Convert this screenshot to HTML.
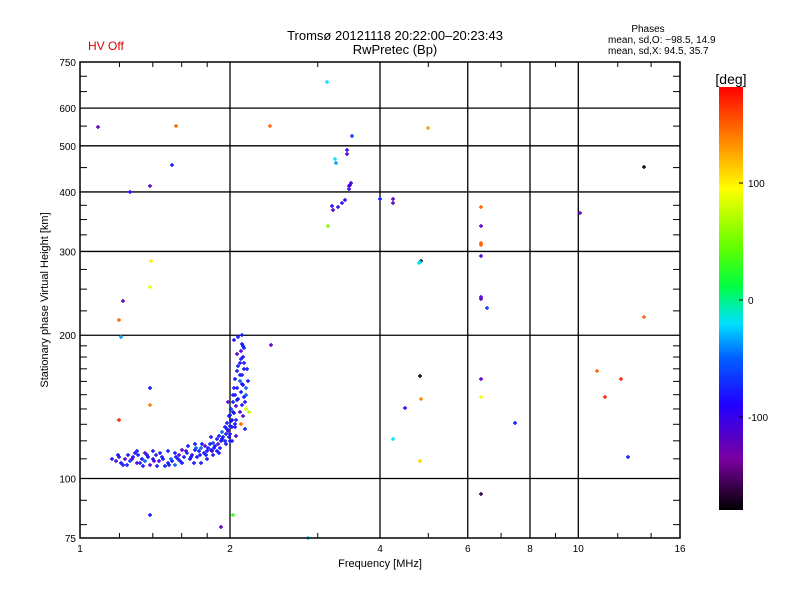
<!DOCTYPE html>
<html><head><meta charset="utf-8"><style>
body{margin:0;background:#fff;width:800px;height:600px;overflow:hidden}
text{font-family:"Liberation Sans",sans-serif;fill:#000}
</style></head><body>
<svg id="chart" width="800" height="600" xmlns="http://www.w3.org/2000/svg">
<defs><linearGradient id="cb" x1="0" y1="1" x2="0" y2="0">
<stop offset="0" stop-color="#000"/>
<stop offset="0.12" stop-color="#7a00a0"/>
<stop offset="0.25" stop-color="#2000ff"/>
<stop offset="0.36" stop-color="#0060ff"/>
<stop offset="0.44" stop-color="#00e0ff"/>
<stop offset="0.53" stop-color="#00ff40"/>
<stop offset="0.62" stop-color="#60ff00"/>
<stop offset="0.76" stop-color="#ffff00"/>
<stop offset="0.88" stop-color="#ff8000"/>
<stop offset="1" stop-color="#ff0000"/>
</linearGradient></defs>
<g id="grid"></g>
<g id="pts"></g>
<g id="axes"></g>
<text x="395" y="40" font-size="13" text-anchor="middle">Tromsø 20121118 20:22:00–20:23:43</text>
<text x="395" y="54" font-size="13" text-anchor="middle">RwPretec (Bp)</text>
<text x="88" y="50" font-size="12" style="fill:#e00000">HV Off</text>
<text x="648" y="32" font-size="10" text-anchor="middle">Phases</text>
<text x="608" y="43" font-size="10">mean, sd,O: −98.5, 14.9</text>
<text x="608" y="54" font-size="10">mean, sd,X:  94.5, 35.7</text>
<text x="380" y="567" font-size="11" text-anchor="middle">Frequency [MHz]</text>
<text transform="translate(48,300) rotate(-90)" font-size="11" text-anchor="middle">Stationary phase Virtual Height [km]</text>
<rect x="719" y="87" width="24" height="423" fill="url(#cb)"/>
<text x="731" y="84" font-size="14" text-anchor="middle">[deg]</text>
<g id="cbt"></g>
</svg>
<script>
const xTicks=[1,2,4,6,8,10,16];
const yTicks=[75,100,200,300,400,500,600,750];
const cbTicks=[100,0,-100];
const freqs=[1.16,1.18,1.2,1.21,1.23,1.25,1.26,1.28,1.3,1.31,1.33,1.35,1.37,1.38,1.4,1.42,1.44,1.46,1.5,1.53,1.55,1.57,1.58,1.6,1.62,1.64,1.66,1.68,1.7,1.72,1.73,1.75,1.77,1.78,1.8,1.82,1.83,1.85,1.86,1.88,1.89,1.9,1.92,1.93,1.94,1.95,1.96,1.97,1.98,1.99,2.0,2.01,2.02,2.03,2.04,2.05,2.06,2.07,2.08,2.09,2.1,2.11,2.12,2.13,2.09,2.12,2.1,2.11,2.08,2.13,2.07,2.15,2.15,2.17,2.05,2.02,2.06,2.1,2.14,2.0,1.98,2.04,2.0,1.96,1.7,1.65,1.6,1.55,1.5,1.45,1.4,1.35,1.3,1.24,1.34,1.48,1.52,1.75,1.8,1.85,1.9,2.12,2.14,2.16,2.11,2.18,
1.087,1.557,2.41,3.13,4.99,3.51,1.53,1.26,1.38,3.25,3.26,3.43,3.44,3.2,3.22,3.3,3.36,3.4,3.47,3.5,3.46,3.49,3.15,4.0,4.24,4.25,6.37,6.37,6.37,6.37,6.37,6.37,6.37,6.37,6.37,6.37,4.84,4.78,4.81,6.56,7.47,4.81,4.83,4.5,4.25,4.81,10.08,13.56,13.56,10.9,11.3,12.2,12.6,1.39,1.38,1.22,1.2,1.21,1.38,1.38,1.2,1.38,2.03,1.92,2.87,2.42,
1.19,1.22,1.27,1.29,1.32,1.36,1.41,1.43,1.47,1.51,1.56,1.59,1.63,1.67,1.69,1.71,1.74,1.76,1.79,1.81,1.84,1.87,1.91,1.95,1.97,1.99,2.01,2.03,2.05,2.07,2.09,2.11,2.13,2.06,2.08,2.1,2.12,2.04,2.02,2.0,2.07,2.09,2.11,2.13,2.15,2.05,2.03,1.93,1.88,1.83];
const heights=[110,109,111,108,110,112,109,111,108,112,110,109,111,107,110,112,109,111,108,109,107,110,112,108,111,113,110,112,115,111,114,116,113,117,114,118,115,119,116,121,118,123,120,125,122,128,124,131,126,135,129,140,133,145,137,150,142,155,147,160,152,165,157,170,175,180,185,192,198,188,168,150,140,160,162,128,123,130,127,136,145,155,120,118,118,117,115,113,114,113,114,113,114,107,106,106,110,108,110,112,113,135,145,170,200,138,
547,549,549,681,545,525,456,400,412,470,460,490,480,374,366,372,380,384,411,418,406,414,339,387,387,380,372,340,313,309,293,241,238,162,148,93,287,283,285,228,131,164,147,141,121,109,362,452,218,168,148,162,111,287,253,236,215,198,155,143,133,84,84,79,75,191,
112,107,110,113,108,112,109,106,110,107,111,109,114,111,108,116,112,118,112,116,114,117,116,120,127,122,132,138,128,146,138,158,148,133,172,178,190,195,120,124,183,165,143,175,155,130,150,121,114,122];
const phases=[-100,-130,-100,-100,-130,-100,-90,-100,-130,-100,-100,-80,-100,-130,-100,-100,-120,-100,-100,-100,-80,-100,-130,-100,-100,-90,-100,-120,-100,-100,-100,-80,-100,-130,-100,-100,-100,-90,-100,-100,-130,-100,-100,-80,-100,-100,-100,-100,-130,-100,-100,-90,-100,-100,-100,-100,-130,-100,-100,-80,-100,-100,-100,-100,-100,-100,-130,-100,-100,-100,-100,-80,80,-100,-100,-100,-130,150,-100,-100,-130,-100,-100,-100,-100,-100,-130,-100,-100,-100,-100,-130,-100,-100,-100,-100,-80,-100,-100,-100,-100,-130,-100,-100,-100,70,
-140,150,150,-40,130,-90,-100,-100,-140,-40,-60,-110,-130,-110,-130,-120,-110,-120,-110,-130,-120,-130,50,-100,-140,-140,150,-140,150,150,-130,-130,-140,-140,90,-170,-175,-40,-40,-90,-100,-175,140,-100,-40,110,-140,-175,150,150,170,170,-100,100,90,-140,150,-60,-100,140,170,-100,20,-140,-40,-140,
-100,-100,-130,-100,-100,-100,-130,-100,-100,-100,-100,-100,-130,-100,-100,-80,-100,-100,-100,-100,-130,-100,-100,-100,-100,-100,-100,-100,-100,-100,-130,-100,-100,-100,-100,-100,-100,-100,-100,-100,-130,-100,-100,-100,-80,-100,-100,-100,-100,-100];
const X0=80,X1=680,Y0=538,Y1=62;
const xs=f=>X0+(X1-X0)*Math.log2(f)/4;
const ys=h=>Y0-(Y0-Y1)*Math.log10(h/75);
const ns="http://www.w3.org/2000/svg";
function mk(t,a,p){const e=document.createElementNS(ns,t);for(const k in a)e.setAttribute(k,a[k]);p.appendChild(e);return e;}
const stops=[[-180,[0,0,0]],[-150,[110,0,170]],[-125,[70,0,230]],[-100,[20,20,255]],[-80,[0,96,255]],[-40,[0,224,255]],[0,[0,255,64]],[40,[96,255,0]],[95,[255,255,0]],[140,[255,128,0]],[182,[255,0,0]]];
function col(p){for(let i=1;i<stops.length;i++){if(p<=stops[i][0]){const a=stops[i-1],b=stops[i],t=(p-a[0])/(b[0]-a[0]);return 'rgb('+a[1].map((v,j)=>Math.round(v+(b[1][j]-v)*t)).join(',')+')';}}return 'rgb(255,0,0)';}
const grid=document.getElementById('grid'),axes=document.getElementById('axes'),pts=document.getElementById('pts'),cbt=document.getElementById('cbt');
[2,4,6,8,10].forEach(f=>{const l=mk('line',{x1:xs(f),x2:xs(f),y1:Y1,y2:Y0,stroke:'#000','stroke-width':1.3},grid);

});
[100,200,300,400,500,600].forEach(h=>{const l=mk('line',{x1:X0,x2:X1,y1:ys(h),y2:ys(h),stroke:'#000','stroke-width':1.3},grid);

});
mk('rect',{x:X0,y:Y1,width:X1-X0,height:Y0-Y1,fill:'none',stroke:'#000','stroke-width':1.5},axes);
xTicks.forEach(f=>{const t=mk('text',{x:xs(f),y:Y0+14,'font-size':10,'text-anchor':'middle'},axes);t.textContent=f;

});
[1.2,1.4,1.6,1.8,3,5,7,9,12,14].forEach(f=>{mk('line',{x1:xs(f),x2:xs(f),y1:Y0,y2:Y0-5,stroke:'#000'},axes);mk('line',{x1:xs(f),x2:xs(f),y1:Y1,y2:Y1+5,stroke:'#000'},axes);});
yTicks.forEach(h=>{const t=mk('text',{x:X0-4,y:ys(h)+4,'font-size':10,'text-anchor':'end'},axes);t.textContent=h;

});
[80,90,110,120,130,140,150,160,170,180,190,225,250,275,325,350,375,450,550,650,700].forEach(h=>{mk('line',{x1:X0,x2:X0+7,y1:ys(h),y2:ys(h),stroke:'#000'},axes);mk('line',{x1:X1,x2:X1-7,y1:ys(h),y2:ys(h),stroke:'#000'},axes);});
phases.forEach((p,i)=>{const x=Math.round(xs(freqs[i])),y=Math.round(ys(heights[i])),c=col(p);
const g=mk('path',{d:`M${x-2} ${y}h4M${x} ${y-2}v4`,stroke:c,'stroke-width':1.4,fill:'none'},pts);

});
const cy=v=>300-1.17*v;
cbTicks.forEach(v=>{mk('line',{x1:743,x2:739,y1:cy(v),y2:cy(v),stroke:'#000'},cbt);const t=mk('text',{x:748,y:cy(v)+4,'font-size':10},cbt);t.textContent=v;

});
</script>
</body></html>
